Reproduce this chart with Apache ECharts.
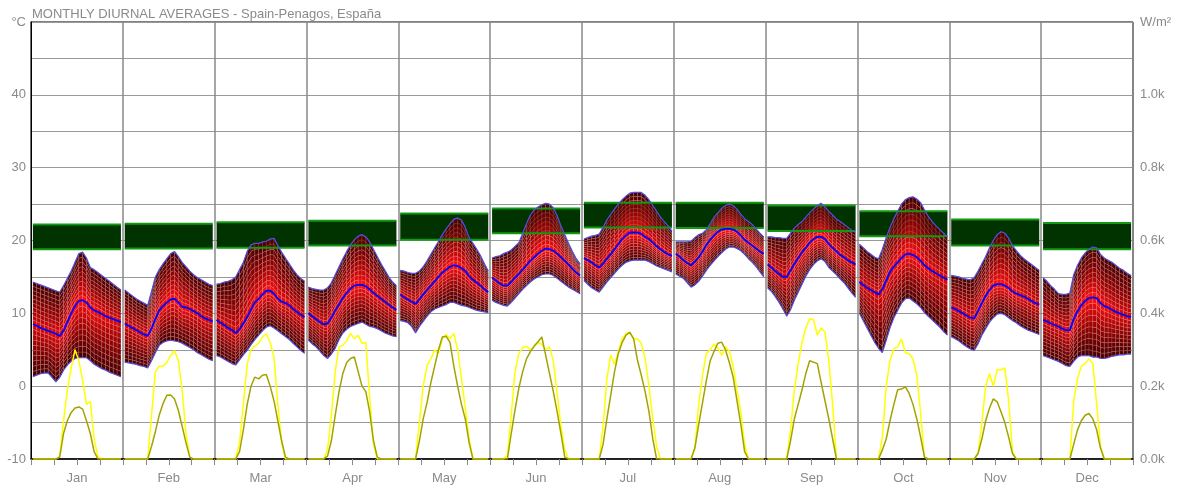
<!DOCTYPE html>
<html>
<head>
<meta charset="utf-8">
<script src="https://cdn.jsdelivr.net/npm/echarts@6/dist/echarts.min.js"></script>
<style>
html,body{margin:0;padding:0;background:#fff;}
#chart{width:1180px;height:488px;}
</style>
</head>
<body>
<div id="chart"></div>
<script>
// ---------------- DATA ----------------
const months = ['Jan','Feb','Mar','Apr','May','Jun','Jul','Aug','Sep','Oct','Nov','Dec'];
const leftTicks = [-10, 0, 10, 20, 30, 40];
const rightTicks = ['0.0k','0.2k','0.4k','0.6k','0.8k','1.0k'];

// hourly temperature maxima (°C), one row per month, 24 hours
const tMax = [
 [14.3,14.1,13.9,13.7,13.5,13.3,13.1,12.9,13.8,14.8,15.8,17.0,18.2,18.4,17.6,16.3,16.0,15.6,15.2,14.8,14.4,14.0,13.6,13.2],
 [13.2,12.8,12.4,12.0,11.7,11.4,11.1,13.0,15.0,16.0,16.8,17.5,18.2,18.5,17.8,17.0,16.4,15.8,15.3,14.9,14.6,14.3,14.0,13.8],
 [14.0,14.1,14.3,14.4,14.6,15.0,16.0,17.0,18.5,19.4,19.6,19.6,19.8,19.9,20.2,20.3,19.3,18.4,17.6,16.8,16.0,15.3,14.8,14.4],
 [13.6,13.4,13.3,13.2,13.2,13.5,14.2,15.3,16.4,17.5,18.5,19.4,20.1,20.6,20.8,20.5,19.8,18.8,17.8,16.8,15.9,15.0,14.3,13.8],
 [15.9,15.8,15.6,15.5,15.5,15.8,16.4,17.2,18.1,19.0,19.9,20.8,21.6,22.3,22.9,23.1,22.8,21.8,20.4,19.6,18.8,17.9,16.8,15.8],
 [17.6,17.8,17.9,18.2,18.4,18.7,19.2,19.7,21.0,22.3,23.5,24.2,24.6,24.9,25.1,25.0,24.5,23.4,22.0,20.8,19.6,18.5,17.5,16.8],
 [20.2,20.4,20.6,20.7,20.9,21.8,22.8,23.6,24.3,25.0,25.6,26.1,26.5,26.6,26.6,26.6,26.2,25.6,24.8,24.0,23.2,22.6,22.0,21.3],
 [19.8,19.8,19.8,19.8,19.9,20.4,20.8,21.0,21.5,22.3,23.2,23.8,24.4,24.8,25.0,24.8,24.3,23.6,23.0,22.6,22.2,21.6,21.0,20.5],
 [20.5,20.5,20.4,20.4,20.3,20.3,21.0,21.7,22.2,22.6,23.2,23.8,24.3,24.8,25.1,24.6,24.0,23.5,22.9,22.6,22.2,21.8,21.4,21.1],
 [19.5,19.0,18.5,18.1,17.7,17.5,18.8,20.4,21.8,23.0,24.0,25.0,25.6,25.9,26.0,25.7,25.2,24.2,23.3,22.6,22.0,21.5,21.0,20.5],
 [15.2,15.1,15.0,14.8,14.7,14.6,14.9,15.8,16.8,17.8,19.0,20.0,20.8,21.2,21.0,20.3,19.3,18.6,18.0,17.5,17.1,16.7,16.3,15.9],
 [14.9,14.4,13.8,13.3,12.7,12.6,12.6,12.8,15.3,16.6,17.6,18.3,18.8,19.1,19.0,18.1,17.6,17.3,17.0,16.6,16.2,15.9,15.5,15.2]
];
// hourly temperature means (°C)
const tMean = [
 [8.5,8.3,8.0,7.8,7.6,7.4,7.2,6.9,7.6,8.8,10.0,11.0,11.7,11.8,11.5,10.8,10.4,10.2,9.9,9.6,9.4,9.2,9.0,8.8],
 [8.6,8.3,8.0,7.7,7.4,7.1,6.9,7.9,9.2,10.4,11.0,11.5,11.9,12.0,11.5,10.9,10.8,10.6,10.3,10.0,9.6,9.3,9.1,8.9],
 [9.1,8.7,8.4,8.0,7.7,7.3,7.8,8.6,9.5,10.5,11.5,12.0,12.6,13.1,13.1,12.7,12.0,11.6,11.4,11.1,10.6,10.2,9.8,9.5],
 [10.0,9.6,9.2,8.8,8.5,8.6,9.4,10.4,11.2,12.1,12.8,13.4,13.8,13.9,13.9,13.7,13.3,12.8,12.4,12.0,11.6,11.2,10.8,10.5],
 [12.6,12.2,11.9,11.6,11.3,11.9,12.6,13.2,13.8,14.4,15.0,15.6,16.0,16.4,16.6,16.5,16.2,15.8,15.1,14.6,14.2,13.8,13.3,12.9],
 [14.9,14.5,14.1,13.8,13.8,14.3,14.9,15.4,16.0,16.6,17.2,17.7,18.2,18.6,18.9,18.8,18.6,18.2,17.7,17.2,16.7,16.1,15.6,15.2],
 [17.6,17.3,17.0,16.6,16.3,16.8,17.5,18.1,18.8,19.5,20.2,20.7,21.1,21.1,21.1,20.9,20.5,20.2,19.7,19.2,18.8,18.4,18.1,17.9],
 [18.2,17.8,17.3,16.9,16.6,17.1,17.7,18.5,19.4,20.1,20.7,21.2,21.5,21.6,21.6,21.5,21.2,20.7,20.1,19.7,19.3,18.9,18.5,18.2],
 [16.7,16.3,15.8,15.4,15.0,15.0,15.9,16.8,17.6,18.4,19.0,19.7,20.2,20.5,20.5,20.2,19.5,19.0,18.5,18.0,17.7,17.3,17.0,16.7],
 [14.3,13.9,13.5,13.2,12.9,12.6,13.3,14.5,15.7,16.4,17.0,17.6,18.1,18.2,18.0,17.7,17.2,16.6,16.2,15.8,15.5,15.2,14.9,14.6],
 [10.8,10.6,10.3,10.0,9.7,9.4,9.3,10.3,11.4,12.4,13.2,13.8,14.0,14.0,13.8,13.5,13.0,12.7,12.5,12.3,12.0,11.7,11.4,11.2],
 [9.1,8.9,8.6,8.4,8.2,7.9,7.7,7.7,9.2,10.3,11.1,11.7,12.1,12.2,12.1,11.4,11.0,10.8,10.5,10.2,10.0,9.8,9.6,9.5]
];
// hourly temperature minima (°C)
const tMin = [
 [1.3,1.5,1.7,1.8,1.8,1.2,0.6,1.2,2.2,2.9,3.4,3.8,3.9,3.9,3.9,3.5,3.0,2.7,2.4,2.2,1.9,1.7,1.5,1.3],
 [3.3,3.2,3.1,3.0,2.8,2.7,2.5,3.5,4.6,5.6,6.0,6.2,6.3,6.2,6.1,5.9,5.6,5.3,5.0,4.6,4.3,4.0,3.7,3.5],
 [4.2,4.0,3.7,3.4,3.1,2.9,3.6,4.3,4.9,5.7,6.4,7.0,7.6,8.1,8.3,8.0,7.6,7.2,6.8,6.4,5.9,5.4,4.9,4.5],
 [6.3,5.8,5.4,4.8,4.2,3.8,4.4,5.2,6.4,7.3,7.8,8.2,8.4,8.6,8.8,8.5,8.2,8.1,7.9,7.6,7.3,7.1,6.9,6.8],
 [9.0,8.9,8.7,8.2,7.3,8.2,8.9,9.6,10.2,10.6,10.8,11.0,11.2,11.5,11.5,11.3,11.1,11.0,10.8,10.6,10.4,10.3,10.2,10.1],
 [11.8,11.5,11.3,11.1,11.0,11.5,12.1,12.7,13.3,13.8,14.3,14.7,15.0,15.3,15.4,15.4,15.2,14.8,14.4,14.0,13.6,13.3,13.0,12.7],
 [14.5,14.0,13.5,13.2,12.9,13.6,14.3,14.9,15.5,16.1,16.6,17.0,17.2,17.3,17.3,17.3,17.3,17.1,16.8,16.5,16.3,16.1,15.9,15.7],
 [15.4,15.1,14.8,14.2,13.6,13.9,14.4,15.1,15.9,16.6,17.2,17.8,18.3,18.8,19.1,19.1,18.9,18.6,18.1,17.5,17.0,16.4,15.7,15.0],
 [13.5,13.0,12.3,11.5,10.6,9.6,10.5,11.8,12.9,14.0,15.1,16.0,16.7,17.2,17.5,17.1,16.3,15.8,15.3,14.7,14.2,13.5,12.8,12.2],
 [10.0,9.0,8.0,7.0,6.0,5.2,4.6,6.3,8.0,9.4,10.4,11.4,12.0,12.1,11.7,11.3,10.8,10.1,9.6,9.1,8.6,8.1,7.5,7.0],
 [6.8,6.5,6.2,5.8,5.4,5.1,4.9,5.8,7.0,7.9,8.8,9.4,9.9,10.0,9.8,9.4,9.0,8.7,8.3,8.0,7.7,7.5,7.3,7.1],
 [4.2,4.0,3.8,3.6,3.4,3.1,2.8,2.7,3.4,4.0,4.2,4.2,4.2,4.0,4.0,3.8,3.8,3.9,4.1,4.2,4.3,4.3,4.4,4.4]
];
// monthly band (°C): lower and upper edge of the green block
const bandLow  = [18.8,18.9,19.0,19.3,20.1,21.0,21.8,21.7,21.3,20.6,19.3,18.8];
const bandHigh = [22.2,22.3,22.5,22.7,23.7,24.4,25.2,25.2,24.8,24.0,22.9,22.4];
// hourly maximum radiation (W/m²)
const radMax = [
 [0,0,0,0,0,0,0,8,104,190,250,300,270,216,150,158,55,5,0,0,0,0,0,0],
 [0,0,0,0,0,0,0,120,240,255,255,265,285,298,270,190,70,5,0,0,0,0,0,0],
 [0,0,0,0,0,0,45,150,260,300,310,318,335,344,320,280,150,45,0,0,0,0,0,0],
 [0,0,0,0,0,25,120,240,308,312,325,345,330,340,318,320,170,40,0,0,0,0,0,0],
 [0,0,0,0,0,100,200,257,275,299,290,330,342,330,345,300,220,140,55,0,0,0,0,0],
 [0,0,0,0,10,120,240,290,305,310,300,308,320,315,300,308,270,180,90,25,0,0,0,0],
 [0,0,0,0,0,90,220,285,260,295,330,345,348,330,330,318,275,200,110,35,0,0,0,0],
 [0,0,0,0,0,30,150,230,290,300,315,305,285,308,296,255,190,130,40,0,0,0,0,0],
 [0,0,0,0,0,0,80,190,262,320,360,385,383,340,360,349,270,150,0,0,0,0,0,0],
 [0,0,0,0,0,0,60,200,270,303,308,330,292,289,275,230,125,5,0,0,0,0,0,0],
 [0,0,0,0,0,0,0,15,100,200,235,200,245,245,250,160,20,0,0,0,0,0,0,0],
 [0,0,0,0,0,0,0,0,160,220,255,262,275,262,152,35,0,0,0,0,0,0,0,0]
];
// hourly mean radiation (W/m²)
const radMean = [
 [0,0,0,0,0,0,0,5,70,105,128,140,143,137,105,70,20,0,0,0,0,0,0,0],
 [0,0,0,0,0,0,0,35,75,120,152,175,176,165,134,90,45,5,0,0,0,0,0,0],
 [0,0,0,0,0,0,20,80,150,200,225,220,230,232,200,160,105,50,5,0,0,0,0,0],
 [0,0,0,0,0,8,50,120,185,235,265,276,280,240,200,185,130,50,5,0,0,0,0,0],
 [0,0,0,0,0,50,110,155,210,255,300,335,337,320,255,200,150,110,45,0,0,0,0,0],
 [0,0,0,0,0,70,135,195,240,275,295,310,322,335,285,235,185,130,70,5,0,0,0,0],
 [0,0,0,0,0,40,110,175,240,290,320,340,348,330,271,230,185,130,55,0,0,0,0,0],
 [0,0,0,0,0,30,95,155,215,270,295,318,321,300,265,225,160,95,20,0,0,0,0,0],
 [0,0,0,0,0,0,50,110,150,190,235,270,266,262,210,160,110,55,0,0,0,0,0,0],
 [0,0,0,0,0,0,25,55,105,150,190,192,198,180,150,110,60,5,0,0,0,0,0,0],
 [0,0,0,0,0,0,0,15,55,105,140,165,157,130,100,60,15,0,0,0,0,0,0,0],
 [0,0,0,0,0,0,0,0,40,80,105,120,125,110,80,30,0,0,0,0,0,0,0,0]
];

// ---------------- BUILD ----------------
const HOURS = 24;
function hx(m, h) { return m * HOURS + h + 0.5; }

function lineData(src) {
  const out = [];
  for (let m = 0; m < src.length; m++) {
    for (let h = 0; h < HOURS; h++) out.push([hx(m, h), src[m][h]]);
    out.push([m * HOURS + HOURS, null]);
  }
  return out;
}
function bandLineData(vals) {
  const out = [];
  for (let m = 0; m < vals.length; m++) {
    out.push([hx(m, 0), vals[m]]);
    out.push([hx(m, HOURS - 1), vals[m]]);
    out.push([m * HOURS + HOURS, null]);
  }
  return out;
}
const meshData = [];
for (let m = 0; m < 12; m++) {
  for (let h = 0; h < HOURS - 1; h++) {
    meshData.push([hx(m, h), hx(m, h + 1),
      tMin[m][h], tMean[m][h], tMax[m][h],
      tMin[m][h + 1], tMean[m][h + 1], tMax[m][h + 1]]);
  }
}
const blockData = [];
for (let m = 0; m < 12; m++) blockData.push([hx(m, 0), hx(m, HOURS - 1), bandLow[m], bandHigh[m]]);

// shade: t = vertical closeness to mean (0 edge .. 1 mean), d = daytime factor (0..1)
function redShade(t, d) {
  const v = Math.pow(t, 1.25) * (0.78 + 0.22 * d);
  const r = Math.round(72 + 183 * v);
  const g = Math.round(18 * v * v);
  return 'rgb(' + r + ',' + g + ',' + g + ')';
}
const LAYERS = 10;
function renderMesh(params, api) {
  const x0 = api.value(0), x1 = api.value(1);
  const hr = ((x0 + x1) / 2) % HOURS;
  const d = Math.exp(-Math.pow((hr - 13.5) / 6, 2));
  const a = [api.value(2), api.value(3), api.value(4)];
  const b = [api.value(5), api.value(6), api.value(7)];
  const children = [];
  for (let part = 0; part < 2; part++) {
    for (let k = 0; k < LAYERS; k++) {
      const f0 = k / LAYERS, f1 = (k + 1) / LAYERS;
      let ya0, ya1, yb0, yb1, t;
      if (part === 0) {
        ya0 = a[0] + (a[1] - a[0]) * f0; ya1 = a[0] + (a[1] - a[0]) * f1;
        yb0 = b[0] + (b[1] - b[0]) * f0; yb1 = b[0] + (b[1] - b[0]) * f1;
        t = (k + 0.5) / LAYERS;
      } else {
        ya0 = a[1] + (a[2] - a[1]) * f0; ya1 = a[1] + (a[2] - a[1]) * f1;
        yb0 = b[1] + (b[2] - b[1]) * f0; yb1 = b[1] + (b[2] - b[1]) * f1;
        t = 1 - (k + 0.5) / LAYERS;
      }
      const pts = [api.coord([x0, ya0]), api.coord([x1, yb0]), api.coord([x1, yb1]), api.coord([x0, ya1])];
      children.push({
        type: 'polygon',
        shape: { points: pts },
        style: { fill: redShade(t, d), stroke: 'rgba(255,175,175,0.28)', lineWidth: 0.6 }
      });
    }
  }
  return { type: 'group', children: children };
}
function renderBlock(params, api) {
  const p0 = api.coord([api.value(0), api.value(3)]);
  const p1 = api.coord([api.value(1), api.value(2)]);
  return { type: 'rect', shape: { x: p0[0], y: p0[1], width: p1[0] - p0[0], height: p1[1] - p0[1] },
           style: { fill: '#003300' } };
}

const chart = echarts.init(document.getElementById('chart'), null, { renderer: 'canvas' });
const labelColor = '#8a8a8a';
const fontFam = '"Liberation Sans", Arial, sans-serif';
chart.setOption({
  animation: false,
  backgroundColor: '#fff',
  title: {
    text: 'MONTHLY DIURNAL AVERAGES - Spain-Penagos, España',
    left: 27, top: 3,
    textStyle: { fontSize: 13, fontWeight: 'normal', color: labelColor, fontFamily: fontFam }
  },
  grid: { left: 31, right: 47, top: 22, bottom: 29, show: true, borderColor: '#000', borderWidth: 1, backgroundColor: 'transparent' },
  xAxis: [
    { type: 'value', min: 0, max: 288, interval: 24,
      axisLine: { show: false }, axisTick: { show: false }, axisLabel: { show: false },
      splitLine: { show: true, lineStyle: { color: '#888', width: 1.5 } } },
    { type: 'value', min: 0, max: 288, interval: 6, position: 'bottom',
      axisLine: { show: true, onZero: false, lineStyle: { color: '#000', width: 1.5 } },
      axisTick: { show: true, length: 6, lineStyle: { color: '#888' } },
      splitLine: { show: false },
      axisLabel: { color: labelColor, fontSize: 13, fontFamily: fontFam, margin: 13,
        formatter: function (v) { return (v % 24 === 12) ? months[(v - 12) / 24] : ''; } } }
  ],
  yAxis: [
    { type: 'value', min: -10, max: 50, interval: 5,
      axisLine: { show: true, lineStyle: { color: '#666', width: 1.5 } },
      axisTick: { show: false },
      splitLine: { show: true, lineStyle: { color: '#999', width: 1 } },
      axisLabel: { color: labelColor, fontSize: 13, fontFamily: fontFam, margin: 5,
        formatter: function (v) {
          if (v === 50) return '°C';
          const i = leftTicks.indexOf(v);
          return i >= 0 ? String(leftTicks[i]) : '';
        } } },
    { type: 'value', min: 0, max: 1200, interval: 200, position: 'right',
      axisLine: { show: true, lineStyle: { color: '#000', width: 1 } },
      axisTick: { show: false }, splitLine: { show: false },
      axisLabel: { color: labelColor, fontSize: 13, fontFamily: fontFam, margin: 7,
        formatter: function (v) {
          if (v === 1200) return 'W/m²';
          return rightTicks[v / 200] || '';
        } } }
  ],
  series: [
    { type: 'custom', name: 'band', xAxisIndex: 0, yAxisIndex: 0, z: 1,
      renderItem: renderBlock, data: blockData, encode: { x: [0, 1], y: [2, 3] } },
    { type: 'custom', name: 'range', xAxisIndex: 0, yAxisIndex: 0, z: 2,
      renderItem: renderMesh, data: meshData, encode: { x: [0, 1], y: [2, 3, 4, 5, 6, 7] } },
    { type: 'line', name: 'bandLow', xAxisIndex: 0, yAxisIndex: 0, z: 3, data: bandLineData(bandLow),
      symbol: 'none', connectNulls: false, lineStyle: { color: '#119911', width: 2 } },
    { type: 'line', name: 'bandHigh', xAxisIndex: 0, yAxisIndex: 0, z: 3, data: bandLineData(bandHigh),
      symbol: 'none', connectNulls: false, lineStyle: { color: '#119911', width: 2 } },
    { type: 'line', name: 'max', xAxisIndex: 0, yAxisIndex: 0, z: 4, data: lineData(tMax),
      symbol: 'none', connectNulls: false, lineStyle: { color: '#5050dd', width: 1.2 } },
    { type: 'line', name: 'min', xAxisIndex: 0, yAxisIndex: 0, z: 4, data: lineData(tMin),
      symbol: 'none', connectNulls: false, lineStyle: { color: '#5050dd', width: 1.2 } },
    { type: 'line', name: 'mean', xAxisIndex: 0, yAxisIndex: 0, z: 5, data: lineData(tMean),
      symbol: 'none', connectNulls: false, lineStyle: { color: '#0000ff', width: 1.8 } },
    { type: 'line', name: 'radMax', xAxisIndex: 0, yAxisIndex: 1, z: 6, data: lineData(radMax),
      symbol: 'none', connectNulls: false, lineStyle: { color: '#ffff00', width: 1.5 } },
    { type: 'line', name: 'radMean', xAxisIndex: 0, yAxisIndex: 1, z: 7, data: lineData(radMean),
      symbol: 'none', connectNulls: false, lineStyle: { color: '#a3a300', width: 1.5 } }
  ]
});
</script>
</body>
</html>
